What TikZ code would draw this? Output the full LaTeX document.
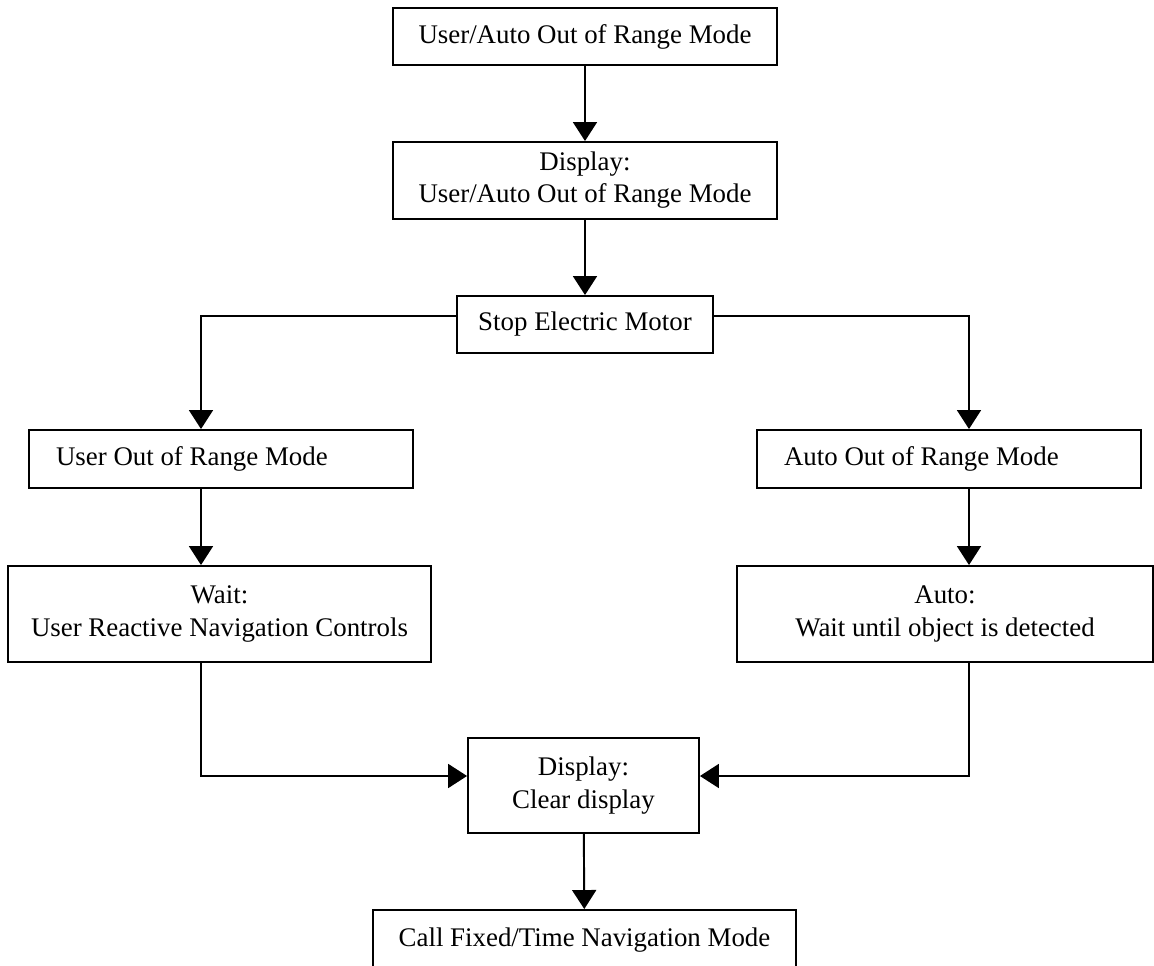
\documentclass[tikz,border=0pt]{standalone}
\usepackage{fontspec}
\setmainfont{Liberation Serif}
\usetikzlibrary{arrows.meta}

\tikzset{
    box/.style={draw, line width=1.1pt, align=center, inner sep=0pt,
        font=\fontsize{15.3pt}{18.3pt}\selectfont},
    leftbox/.style={box, align=flush left, inner xsep=0.54cm, text width=6.6cm},
    arr/.style={line width=1.1pt, -{Triangle[length=0.38cm, width=0.48cm]}}
}

\begin{document}
\begin{tikzpicture}[x=0.02cm, y=-0.02cm]
    \useasboundingbox (0,0) rectangle (1154,966);
    \node[box, minimum width=7.68cm, minimum height=1.14cm] (out_range) at (585,36.5) {User/Auto Out of Range Mode};
    \node[box, minimum width=7.68cm, minimum height=1.54cm] (disp_mode) at (585,180.5) {Display:\\User/Auto Out of Range Mode};
    \node[box, minimum width=5.12cm, minimum height=1.14cm] (stop_motor) at (585,324.5) {Stop Electric Motor};
    \node[leftbox, minimum height=1.16cm] (user_mode) at (221,459) {User Out of Range Mode};
    \node[box, minimum width=8.46cm, minimum height=1.92cm] (user_wait) at (219.5,614) {Wait:\\User Reactive Navigation Controls};
    \node[leftbox, minimum height=1.16cm] (auto_mode) at (949,459) {Auto Out of Range Mode};
    \node[box, minimum width=8.32cm, minimum height=1.92cm] (auto_wait) at (945,614) {Auto:\\Wait until object is detected};
    \node[box, minimum width=4.62cm, minimum height=1.9cm] (clear_disp) at (583.5,785.5) {Display:\\Clear display};
    \node[box, minimum width=8.46cm, minimum height=1.2cm] (call_nav) at (584.5,940) {Call Fixed/Time Navigation Mode};
    \coordinate (lsplit) at (201,316);
    \coordinate (rsplit) at (969,316);
    \coordinate (ljoin) at (201,776);
    \coordinate (rjoin) at (969,776);
    \draw[arr] (out_range) -- (disp_mode);
    \draw[arr] (disp_mode) -- (stop_motor);
    \draw[arr] (stop_motor.west |- lsplit) -- (lsplit) -- (user_mode.north -| lsplit);
    \draw[arr] (stop_motor.east |- rsplit) -- (rsplit) -- (auto_mode.north -| rsplit);
    \draw[arr] (user_mode.south -| lsplit) -- (user_wait.north -| lsplit);
    \draw[arr] (auto_mode.south -| rsplit) -- (auto_wait.north -| rsplit);
    \draw[arr] (user_wait.south -| ljoin) -- (ljoin) -- (clear_disp.west |- ljoin);
    \draw[arr] (auto_wait.south -| rjoin) -- (rjoin) -- (clear_disp.east |- rjoin);
    \draw[arr] (clear_disp) -- (call_nav);
\end{tikzpicture}
\end{document}
